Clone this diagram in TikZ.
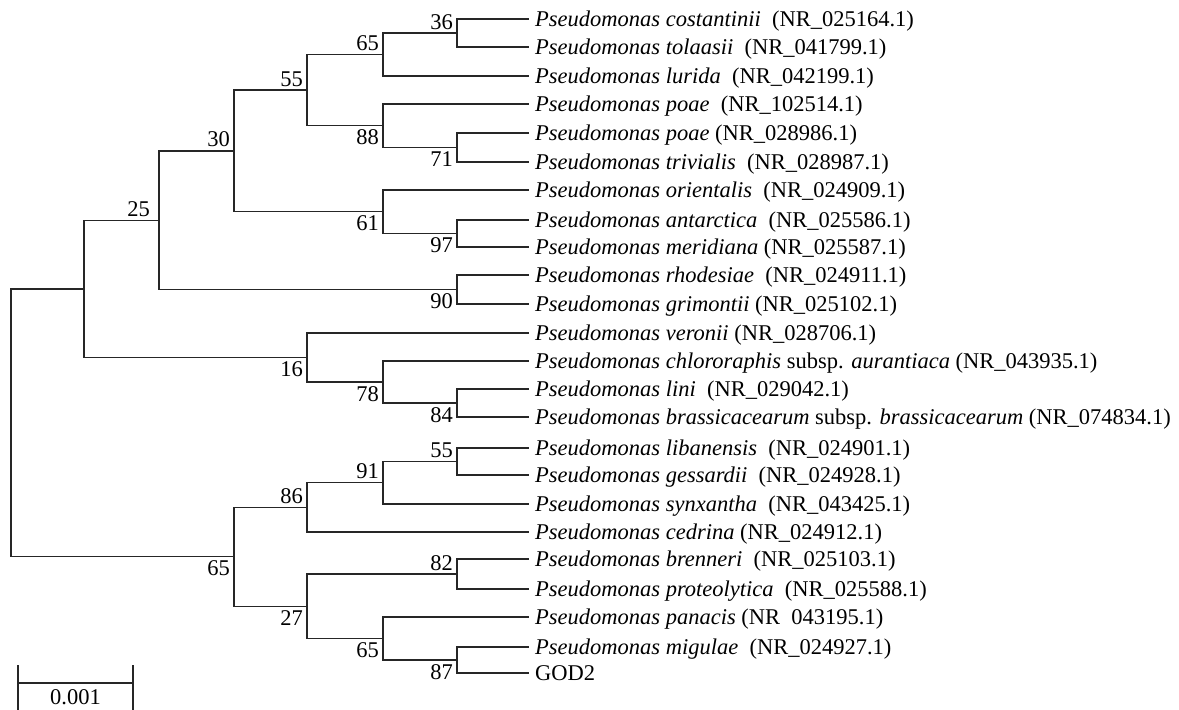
\documentclass[tikz,border=0pt]{standalone}
\usepackage{fontspec}
\setmainfont{Liberation Serif}
\begin{document}
\begin{tikzpicture}[x=1pt,y=-1pt,
  br/.style={line width=1.3pt, draw=black!85, line cap=rect},
  lab/.style={font=\fontsize{22.5}{24}\selectfont, inner sep=0pt},
  up/.style={lab, anchor=south east, xshift=-4pt, yshift=3.5pt},
  dn/.style={lab, anchor=north east, xshift=-4pt, yshift=-4pt}]
\useasboundingbox (0,0) rectangle (1179,710);
% leaves
\newcommand\lf[3]{\coordinate (L#1) at (528,#2); \node[lab,anchor=base west] (t#1) at (535,#2+7.7) {#3};}
\lf{1}{19}{\textit{Pseudomonas costantinii}\ \ (NR\_025164.1)}
\lf{2}{47}{\textit{Pseudomonas tolaasii}\ \ (NR\_041799.1)}
\lf{3}{76}{\textit{Pseudomonas lurida}\ \ (NR\_042199.1)}
\lf{4}{104}{\textit{Pseudomonas poae}\ \ (NR\_102514.1)}
\lf{5}{133}{\textit{Pseudomonas poae} (NR\_028986.1)}
\lf{6}{162}{\textit{Pseudomonas trivialis}\ \ (NR\_028987.1)}
\lf{7}{190}{\textit{Pseudomonas orientalis}\ \ (NR\_024909.1)}
\lf{8}{220}{\textit{Pseudomonas antarctica}\ \ (NR\_025586.1)}
\lf{9}{247}{\textit{Pseudomonas meridiana} (NR\_025587.1)}
\lf{10}{275}{\textit{Pseudomonas rhodesiae}\ \ (NR\_024911.1)}
\lf{11}{304}{\textit{Pseudomonas grimontii} (NR\_025102.1)}
\lf{12}{333}{\textit{Pseudomonas veronii} (NR\_028706.1)}
\lf{13}{361}{\textit{Pseudomonas chlororaphis} subsp. \textit{aurantiaca} (NR\_043935.1)}
\lf{14}{389}{\textit{Pseudomonas lini}\ \ (NR\_029042.1)}
\lf{15}{417}{\textit{Pseudomonas brassicacearum} subsp. \textit{brassicacearum} (NR\_074834.1)}
\lf{16}{448}{\textit{Pseudomonas libanensis}\ \ (NR\_024901.1)}
\lf{17}{475}{\textit{Pseudomonas gessardii}\ \ (NR\_024928.1)}
\lf{18}{504}{\textit{Pseudomonas synxantha}\ \ (NR\_043425.1)}
\lf{19}{532}{\textit{Pseudomonas cedrina} (NR\_024912.1)}
\lf{20}{559}{\textit{Pseudomonas brenneri}\ \ (NR\_025103.1)}
\lf{21}{589}{\textit{Pseudomonas proteolytica}\ \ (NR\_025588.1)}
\lf{22}{617}{\textit{Pseudomonas panacis} (NR\hspace{0.5em}043195.1)}
\lf{23}{647}{\textit{Pseudomonas migulae}\ \ (NR\_024927.1)}
\lf{24}{673}{GOD2}
% internal nodes
\coordinate (n36) at (457,33);
\coordinate (n65a) at (383,54.5);
\coordinate (n71) at (457,147.5);
\coordinate (n88) at (383,125.75);
\coordinate (n55) at (307,90.1);
\coordinate (n97) at (457,233.5);
\coordinate (n61) at (383,211.75);
\coordinate (n30) at (234,150.9);
\coordinate (n90) at (457,289.5);
\coordinate (n25) at (159,220.2);
\coordinate (n84) at (457,403);
\coordinate (n78) at (383,382);
\coordinate (n16) at (307,357.5);
\coordinate (nA) at (84,288.85);
\coordinate (n55b) at (457,461.5);
\coordinate (n91) at (383,482.75);
\coordinate (n86) at (307,507.4);
\coordinate (n82) at (457,574);
\coordinate (n87) at (457,660);
\coordinate (n65c) at (383,638.5);
\coordinate (n27) at (307,606.25);
\coordinate (n65b) at (234,556.8);
\coordinate (root) at (11,422.8);
% branches
\foreach \p/\c in {n36/L1,n36/L2,n65a/n36,n65a/L3,n71/L5,n71/L6,n88/L4,n88/n71,
  n55/n65a,n55/n88,n97/L8,n97/L9,n61/L7,n61/n97,n30/n55,n30/n61,n90/L10,n90/L11,
  n25/n30,n25/n90,n84/L14,n84/L15,n78/L13,n78/n84,n16/L12,n16/n78,nA/n25,nA/n16,
  n55b/L16,n55b/L17,n91/n55b,n91/L18,n86/n91,n86/L19,n82/L20,n82/L21,n87/L23,n87/L24,
  n65c/L22,n65c/n87,n27/n82,n27/n65c,n65b/n86,n65b/n27,root/nA,root/n65b}
  \draw[br] (\p) |- (\c);
% bootstrap values
\node[up] (b36) at (n36) {36};
\node[up] (b65a) at (n65a) {65};
\node[up] (b55) at (n55) {55};
\node[up] (b30) at (n30) {30};
\node[up, xshift=-5pt] (b25) at (n25) {25};
\node[dn] (b88) at (n88) {88};
\node[dn] (b71) at (n71) {71};
\node[dn] (b61) at (n61) {61};
\node[dn] (b97) at (n97) {97};
\node[dn] (b90) at (n90) {90};
\node[dn] (b16) at (n16) {16};
\node[dn] (b78) at (n78) {78};
\node[dn] (b84) at (n84) {84};
\node[up] (b55b) at (n55b) {55};
\node[up] (b91) at (n91) {91};
\node[up] (b86) at (n86) {86};
\node[dn] (b65b) at (n65b) {65};
\node[up] (b82) at (n82) {82};
\node[dn] (b27) at (n27) {27};
\node[dn] (b65c) at (n65c) {65};
\node[dn] (b87) at (n87) {87};
% scale bar
\coordinate (s1) at (18,683);
\coordinate (s2) at (133,683);
\coordinate (s1t) at (18,666);
\coordinate (s1b) at (18,720);
\coordinate (s2t) at (133,666);
\coordinate (s2b) at (133,720);
\draw[br] (s1) -- (s2);
\draw[br] (s1t) -- (s1b);
\draw[br] (s2t) -- (s2b);
\node[lab, anchor=base] (sl) at (75.5,704) {0.001};
\end{tikzpicture}
\end{document}
